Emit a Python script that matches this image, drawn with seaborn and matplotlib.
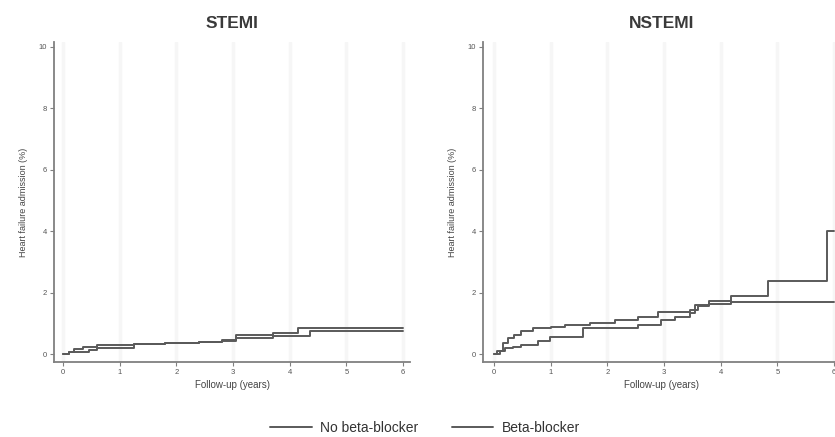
import pandas as pd
import matplotlib.pyplot as plt
import seaborn as sns
from matplotlib.lines import Line2D

# Kaplan-Meier style cumulative incidence
groups = ['No beta-blocker', 'Beta-blocker']
panels = ['STEMI', 'NSTEMI']

stemi_t_no = [0, 0.1, 0.2, 0.35, 0.6, 1.25, 1.8, 2.4, 2.8, 3.05, 3.7, 4.15, 6.0]
stemi_v_no = [0, 0.08, 0.17, 0.22, 0.3, 0.34, 0.37, 0.40, 0.45, 0.62, 0.68, 0.84, 0.84]
stemi_t_bb = [0, 0.1, 0.45, 0.6, 1.25, 1.8, 2.4, 2.8, 3.05, 3.7, 4.35, 6.0]
stemi_v_bb = [0, 0.05, 0.12, 0.18, 0.33, 0.36, 0.39, 0.44, 0.52, 0.58, 0.74, 0.74]

nstemi_t_no = [0, 0.05, 0.16, 0.25, 0.35, 0.48, 0.69, 1.0, 1.25, 1.7, 2.13, 2.54,
               2.89, 3.45, 3.6, 3.8, 4.18, 6.0]
nstemi_v_no = [0, 0.1, 0.35, 0.51, 0.62, 0.76, 0.84, 0.88, 0.95, 1.0, 1.11, 1.22,
               1.36, 1.44, 1.55, 1.62, 1.71, 1.71]
nstemi_t_bb = [0, 0.1, 0.19, 0.34, 0.48, 0.78, 0.98, 1.57, 2.19, 2.54, 2.95, 3.2,
               3.45, 3.55, 3.8, 4.18, 4.84, 5.88, 6.0]
nstemi_v_bb = [0, 0.1, 0.19, 0.24, 0.29, 0.42, 0.54, 0.84, 0.86, 0.95, 1.11, 1.2,
               1.33, 1.6, 1.73, 1.88, 2.39, 4.0, 4.0]

x_ticks = [0, 1, 2, 3, 4, 5, 6]
y_ticks = [0, 2, 4, 6, 8, 10]


def make_frame(t_no, v_no, t_bb, v_bb):
    a = pd.DataFrame({'t': t_no, 'v': v_no, 'group': groups[0]})
    b = pd.DataFrame({'t': t_bb, 'v': v_bb, 'group': groups[1]})
    return pd.concat([a, b], ignore_index=True)


frames = {
    'STEMI': make_frame(stemi_t_no, stemi_v_no, stemi_t_bb, stemi_v_bb),
    'NSTEMI': make_frame(nstemi_t_no, nstemi_v_no, nstemi_t_bb, nstemi_v_bb),
}

sns.set_theme(style='white')
plt.rcParams['font.family'] = ['Liberation Sans', 'DejaVu Sans']

line_col = '#5a5a5a'
fig = plt.figure(figsize=(8.35, 4.37), dpi=100)
# axes boxes: [left, bottom, width, height]; the right panel runs a bit past the edge
boxes = {'STEMI': [0.0647, 0.1716, 0.4263, 0.7323],
         'NSTEMI': [0.5784, 0.1716, 0.4287, 0.7323]}
xlims = {'STEMI': (-0.159, 6.12), 'NSTEMI': (-0.194, 6.12)}

for name in panels:
    ax = fig.add_axes(boxes[name])
    sns.lineplot(data=frames[name], x='t', y='v', hue='group',
                 palette={groups[0]: line_col, groups[1]: line_col},
                 drawstyle='steps-post', estimator=None, linewidth=1.4,
                 legend=False, ax=ax)
    ax.set_xlim(*xlims[name])
    ax.set_ylim(-0.26, 10.16)
    ax.set_xticks(x_ticks)
    ax.set_yticks(y_ticks)
    ax.xaxis.grid(True, color='#f6f6f6', linewidth=2.5)
    ax.set_axisbelow(True)
    for s in ['top', 'right']:
        ax.spines[s].set_visible(False)
    for s in ['left', 'bottom']:
        ax.spines[s].set_color('#808080')
        ax.spines[s].set_linewidth(1.3)
    ax.tick_params(axis='both', which='major', direction='out', length=3, width=0.8,
                   color='#808080', labelsize=5.5, labelcolor='#555555', pad=2,
                   bottom=True, left=True)
    ax.set_title(name, fontsize=12.5, fontweight='bold', color='#3a3a3a', pad=10)
    ax.set_xlabel('Follow-up (years)', fontsize=7, color='#444444', labelpad=3)
    ax.set_ylabel('Heart failure admission (%)', fontsize=6.5, color='#444444', labelpad=8)

handles = [Line2D([], [], color=line_col, linewidth=1.4) for g in groups]
fig.legend(handles, groups, loc='center', bbox_to_anchor=(0.509, 0.021), ncol=2,
           frameon=False, fontsize=10, handlelength=3, handletextpad=0.6,
           columnspacing=2.4, labelcolor='#333333')

fig.savefig('out.png', dpi=100)
plt.close(fig)
